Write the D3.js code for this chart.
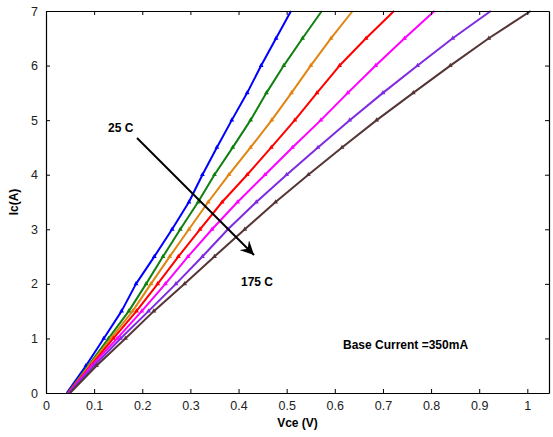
<!DOCTYPE html>
<html>
<head>
<meta charset="utf-8">
<script src="https://cdn.jsdelivr.net/npm/d3@7"></script>
<style>
  body { margin: 0; background: #fff; }
  svg { display: block; font-family: "Liberation Sans", Arial, sans-serif; }
</style>
</head>
<body>
<div id="chart"></div>
<script>
const icLevels = [0, 0.5, 1, 1.5, 2, 2.5, 3, 3.5, 4, 4.5, 5, 5.5, 6, 6.5, 7];

// Vce (V) of each temperature curve at those levels
const vce25 = [0.043, 0.083, 0.120, 0.157, 0.187, 0.225, 0.262, 0.297, 0.325, 0.355, 0.386, 0.418, 0.447, 0.478, 0.509];
const vce50 = [0.045, 0.088, 0.130, 0.172, 0.208, 0.243, 0.279, 0.316, 0.350, 0.388, 0.425, 0.458, 0.494, 0.533, 0.573];
const vce75 = [0.046, 0.090, 0.135, 0.180, 0.218, 0.257, 0.297, 0.337, 0.380, 0.425, 0.469, 0.510, 0.550, 0.592, 0.637];
const vce100 = [0.046, 0.093, 0.140, 0.188, 0.232, 0.275, 0.320, 0.366, 0.418, 0.468, 0.517, 0.563, 0.610, 0.665, 0.723];
const vce125 = [0.047, 0.095, 0.148, 0.199, 0.248, 0.295, 0.345, 0.398, 0.455, 0.512, 0.571, 0.627, 0.685, 0.745, 0.807];
const vce150 = [0.048, 0.100, 0.155, 0.213, 0.270, 0.325, 0.378, 0.437, 0.500, 0.565, 0.631, 0.700, 0.772, 0.845, 0.924];
const vce175 = [0.050, 0.105, 0.165, 0.224, 0.288, 0.350, 0.413, 0.477, 0.545, 0.615, 0.687, 0.763, 0.840, 0.920, 1.007];

const seriesNames = ["25 C", "50 C", "75 C", "100 C", "125 C", "150 C", "175 C"];
const seriesVce = [vce25, vce50, vce75, vce100, vce125, vce150, vce175];
const seriesColors = ["#0000ff", "#108010", "#e08512", "#ff0000", "#ff00ff", "#7f2be0", "#553535"];

const xTicks = [0, 0.1, 0.2, 0.3, 0.4, 0.5, 0.6, 0.7, 0.8, 0.9, 1];
const yTicks = [0, 1, 2, 3, 4, 5, 6, 7];

const margin = { top: 11, right: 4, bottom: 44, left: 46 };
const width = 553 - margin.left - margin.right;
const height = 437 - margin.top - margin.bottom;

const svg = d3.select("#chart").append("svg")
  .attr("width", 553).attr("height", 437);

svg.append("defs").append("marker")
  .attr("id", "arrowhead")
  .attr("viewBox", "-14 -7 16 14")
  .attr("refX", 0).attr("refY", 0)
  .attr("markerWidth", 16).attr("markerHeight", 14)
  .attr("markerUnits", "userSpaceOnUse")
  .attr("orient", "auto")
  .append("path")
  .attr("d", "M0,0 L-14,-7 L-9,0 L-14,7 Z")
  .attr("fill", "#000");

const g = svg.append("g").attr("transform", `translate(${margin.left},${margin.top})`);

const x = d3.scaleLinear().domain([0, 1.045]).range([0, width]);
const y = d3.scaleLinear().domain([0, 7]).range([height, 0]);

// curves
const line = d3.line().x(d => x(d[0])).y(d => y(d[1]));
const pts = vals => vals.map((v, i) => [v, icLevels[i]]);

g.selectAll(".curve").data(seriesVce).join("path")
  .attr("class", "curve")
  .attr("d", d => line(pts(d)))
  .attr("fill", "none")
  .attr("stroke", (d, i) => seriesColors[i])
  .attr("stroke-width", 2)
  .attr("stroke-linejoin", "round");

// small triangle markers along each curve (like the matlab plot)
const tri = d3.symbol().type(d3.symbolTriangle).size(10);
seriesVce.forEach((vals, si) => {
  g.append("g").selectAll("path").data(pts(vals).slice(1, -1)).join("path")
    .attr("d", tri)
    .attr("transform", d => `translate(${x(d[0])},${y(d[1])})`)
    .attr("fill", seriesColors[si]);
});

// box with inward ticks on all sides
const tickFmt = d => d === 0 ? "0" : d3.format("~g")(d);
const styleAxis = sel => {
  sel.select(".domain").attr("stroke", "#000").attr("stroke-width", 1.2);
  sel.selectAll(".tick line").attr("stroke", "#000");
  sel.selectAll("text").attr("font-size", 12.5).attr("fill", "#222")
    .attr("font-family", "'Liberation Sans', Arial, sans-serif");
};

g.append("g").attr("transform", `translate(0,${height})`)
  .call(d3.axisBottom(x).tickValues(xTicks).tickFormat(tickFmt).tickSizeInner(-4).tickSizeOuter(0).tickPadding(8))
  .call(styleAxis);
g.append("g")
  .call(d3.axisTop(x).tickValues(xTicks).tickFormat("").tickSizeInner(-4).tickSizeOuter(0))
  .call(styleAxis);
g.append("g")
  .call(d3.axisLeft(y).tickValues(yTicks).tickFormat(tickFmt).tickSizeInner(-4).tickSizeOuter(0).tickPadding(8))
  .call(styleAxis);
g.append("g").attr("transform", `translate(${width},0)`)
  .call(d3.axisRight(y).tickValues(yTicks).tickFormat("").tickSizeInner(-4).tickSizeOuter(0))
  .call(styleAxis);

// axis titles
svg.append("text")
  .attr("x", margin.left + width / 2).attr("y", 427)
  .attr("text-anchor", "middle")
  .attr("font-size", 12).attr("font-weight", "bold")
  .text("Vce (V)");
svg.append("text")
  .attr("transform", `translate(18,${margin.top + height / 2}) rotate(-90)`)
  .attr("text-anchor", "middle")
  .attr("font-size", 12).attr("font-weight", "bold")
  .text("Ic(A)");

// annotations
svg.append("line")
  .attr("x1", 137).attr("y1", 138).attr("x2", 254).attr("y2", 255)
  .attr("stroke", "#000").attr("stroke-width", 2)
  .attr("marker-end", "url(#arrowhead)");

svg.append("text").attr("x", 108).attr("y", 132)
  .attr("font-size", 12).attr("font-weight", "bold").text(seriesNames[0]);
svg.append("text").attr("x", 241).attr("y", 286)
  .attr("font-size", 12).attr("font-weight", "bold").text(seriesNames[6]);
svg.append("text").attr("x", 343).attr("y", 349)
  .attr("font-size", 12).attr("font-weight", "bold").text("Base Current =350mA");
</script>
</body>
</html>
